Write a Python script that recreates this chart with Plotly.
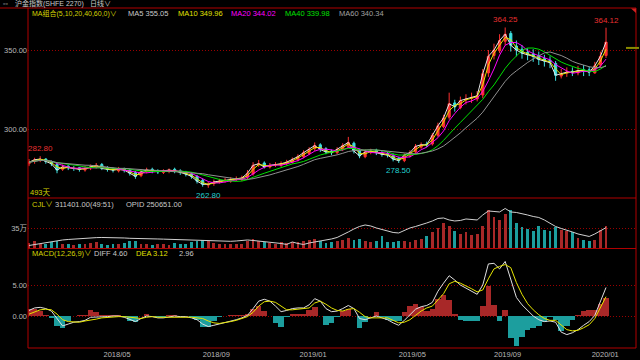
import pandas as pd
import plotly.graph_objects as go

# ---------------- data (weekly samples) ----------------
start_date = "2018-01-12"

close = [279.0, 280.5, 281.0, 279.5, 278.0, 274.0, 276.0, 275.5, 275.0, 274.5,
         275.0, 276.0, 277.0, 275.0, 274.5, 274.0, 274.5, 274.0, 272.0, 270.0,
         273.0, 274.0, 273.5, 273.0, 273.5, 274.0, 273.5, 272.5, 271.5, 270.0,
         267.0, 265.0, 265.0, 266.5, 267.0, 267.5, 268.0, 268.5, 269.0, 272.0,
         277.0, 278.0, 276.0, 277.0, 277.5, 278.0, 279.0, 280.5, 282.5, 285.0,
         287.0, 289.5, 287.0, 285.5, 285.0, 287.0, 289.5, 291.5, 286.0, 283.0,
         285.5, 286.0, 285.0, 284.0, 283.5, 281.0, 280.0, 283.5, 285.0, 289.0,
         290.0, 290.0, 296.0, 302.0, 307.0, 316.0, 314.0, 318.0, 319.0, 320.0,
         321.0, 335.0, 346.0, 350.0, 356.0, 360.0, 353.0, 350.0, 348.0, 347.0,
         346.0, 344.0, 343.0, 342.0, 334.0, 335.0, 336.0, 336.0, 337.0, 337.0,
         336.0, 340.0, 346.0, 355.0]

open_ = [278.0, 279.5, 280.0, 281.0, 279.0, 277.5, 274.5, 276.5, 275.0, 275.5,
         274.0, 275.5, 276.0, 277.5, 275.5, 274.5, 273.5, 275.0, 274.0, 272.5,
         270.5, 273.5, 274.5, 273.0, 272.5, 273.5, 274.5, 273.5, 272.0, 271.5,
         270.0, 267.5, 264.5, 265.5, 266.5, 267.5, 267.0, 268.5, 268.0, 269.5,
         271.5, 277.5, 278.5, 276.0, 277.5, 277.0, 278.5, 279.0, 280.5, 282.5,
         284.5, 287.5, 290.0, 287.5, 286.0, 285.0, 287.0, 289.0, 291.0, 286.5,
         282.5, 285.5, 286.5, 285.0, 284.5, 283.0, 281.5, 280.0, 283.0, 285.5,
         288.5, 290.5, 290.5, 296.0, 301.5, 307.5, 316.5, 313.5, 318.5, 319.5,
         319.0, 321.5, 335.5, 346.5, 349.5, 355.5, 360.5, 352.5, 350.5, 348.5,
         347.5, 346.5, 344.5, 343.5, 341.5, 333.5, 335.5, 336.5, 335.5, 337.5,
         337.5, 335.5, 340.5, 346.5]

high = [281.0, 281.8, 282.8, 281.5, 280.0, 278.5, 277.5, 277.0, 276.5, 276.0,
        276.5, 277.5, 278.5, 278.5, 276.5, 275.5, 276.0, 275.5, 274.5, 273.5,
        274.5, 275.5, 275.5, 274.5, 274.5, 275.0, 275.5, 274.5, 273.5, 272.5,
        271.0, 268.5, 266.5, 268.0, 268.5, 269.0, 269.5, 270.0, 270.5, 274.0,
        279.0, 280.4, 279.5, 278.5, 279.0, 279.5, 280.5, 282.0, 284.0, 286.5,
        288.5, 291.5, 291.0, 288.5, 287.0, 288.5, 291.0, 295.0, 292.0, 287.5,
        287.0, 287.5, 287.5, 286.0, 285.5, 284.5, 282.5, 284.5, 286.5, 290.5,
        291.5, 292.0, 297.5, 304.0, 309.0, 323.0, 318.5, 320.5, 322.0, 323.0,
        324.0, 338.0, 350.0, 354.0, 360.0, 364.25, 362.0, 356.0, 353.0, 351.0,
        350.5, 349.0, 347.0, 346.0, 343.0, 338.0, 339.0, 339.0, 340.0, 340.5,
        339.5, 342.5, 349.0, 364.12]

low = [276.5, 278.0, 279.0, 278.0, 276.5, 272.0, 273.5, 274.0, 273.5, 273.0,
       273.0, 274.0, 275.0, 274.0, 273.0, 272.5, 272.5, 272.5, 270.5, 268.5,
       269.5, 272.0, 272.0, 271.5, 271.5, 272.0, 272.0, 271.0, 270.0, 268.5,
       265.5, 263.5, 262.8, 264.0, 265.5, 266.0, 266.0, 267.0, 267.0, 268.0,
       270.5, 276.0, 275.0, 275.0, 276.0, 276.0, 277.0, 278.0, 279.5, 281.5,
       283.5, 286.0, 285.5, 284.0, 283.5, 284.0, 286.0, 288.0, 284.5, 281.5,
       281.5, 284.0, 283.5, 282.5, 282.0, 279.5, 278.5, 279.0, 282.0, 284.5,
       287.5, 288.5, 289.5, 295.0, 300.5, 306.0, 311.0, 312.5, 315.5, 316.5,
       317.5, 319.5, 333.0, 344.0, 348.0, 353.0, 349.0, 346.0, 344.5, 343.5,
       342.5, 340.5, 339.5, 338.5, 330.5, 332.0, 333.0, 333.5, 334.0, 333.5,
       333.5, 335.0, 339.0, 345.0]

volume_k = [90, 120, 70, 80, 100, 130, 80, 70, 60, 80,
            70, 90, 110, 70, 60, 80, 70, 90, 120, 130,
            80, 70, 60, 80, 70, 60, 90, 70, 80, 100,
            130, 140, 120, 90, 80, 70, 80, 70, 80, 120,
            160, 130, 100, 90, 80, 100, 90, 110, 100, 130,
            140, 160, 130, 90, 100, 120, 140, 180, 150, 170,
            130, 110, 120, 210, 100, 110, 130, 120, 100, 140,
            160, 220, 280, 360, 450, 400, 300, 250, 280, 240,
            260, 400, 680, 560, 500, 620, 690, 450, 380, 350,
            300, 400, 330, 300, 380, 320, 300, 280, 180, 140,
            120, 150, 330, 390]

opid_k = [144, 150, 156, 162, 165, 171, 177, 180, 183, 186,
          189, 191, 191, 192, 192, 190, 189, 189, 187, 187,
          187, 186, 185, 183, 182, 181, 180, 178, 177, 175,
          173, 172, 171, 170, 169, 169, 169, 171, 174, 177,
          174, 171, 168, 165, 162, 156, 150, 165, 156, 150,
          159, 165, 167, 174, 183, 192, 207, 225, 243, 258,
          267, 261, 249, 240, 231, 222, 219, 234, 249, 258,
          267, 279, 291, 306, 309, 297, 291, 294, 303, 300,
          297, 327, 351, 348, 345, 366, 345, 342, 336, 327,
          318, 312, 297, 279, 258, 246, 237, 225, 213, 204,
          198, 213, 231, 251]

diff = [0.9, 1.3, 1.4, 1.2, 0.8, -0.5, -1.6, -1.3, -1.0, -0.9,
        -0.7, -0.2, -0.2, -0.2, -0.1, 0.0, 0.0, -0.2, -0.6, -0.9,
        -0.4, 0.0, -0.1, -0.3, -0.3, -0.1, 0.0, -0.1, -0.1, -0.3,
        -0.6, -1.3, -1.7, -1.5, -1.3, -1.1, -0.8, -0.6, -0.3, 0.1,
        1.2, 2.4, 2.7, 2.4, 1.6, 0.7, 0.9, 1.2, 1.3, 1.3,
        1.8, 2.8, 2.4, 1.2, 0.7, 0.8, 1.2, 1.7, 1.2, -0.4,
        -0.6, -0.3, 0.0, -0.3, -0.6, -1.1, -1.5, -0.7, 0.2, 1.1,
        1.5, 1.7, 2.2, 4.0, 5.3, 6.5, 5.8, 5.0, 4.5, 4.0,
        3.5, 5.0, 8.4, 8.5, 7.6, 8.8, 6.0, 3.0, 1.8, 0.9,
        0.0, -0.6, -0.9, -0.8, -1.0, -2.6, -3.0, -2.7, -2.2, -1.5,
        -0.9, 0.1, 2.3, 4.6]

dea = [0.3, 0.7, 1.0, 1.1, 1.0, 0.3, -0.6, -0.9, -1.0, -1.0,
       -0.8, -0.7, -0.5, -0.3, -0.2, -0.1, -0.1, -0.1, -0.2, -0.4,
       -0.4, -0.2, -0.1, -0.2, -0.2, -0.2, -0.1, -0.1, -0.1, -0.2,
       -0.3, -0.4, -0.8, -1.1, -1.2, -1.1, -0.9, -0.7, -0.4, -0.1,
       0.6, 1.6, 2.3, 2.4, 2.2, 1.6, 1.0, 1.0, 1.1, 1.1,
       1.3, 2.1, 2.4, 1.9, 1.3, 0.9, 0.8, 1.1, 1.2, 0.6,
       -0.1, -0.3, -0.3, -0.2, -0.3, -0.7, -1.1, -1.0, -0.6, 0.1,
       0.8, 1.3, 1.6, 2.6, 3.6, 5.2, 5.6, 5.3, 4.9, 4.4,
       3.9, 4.2, 6.0, 7.6, 8.0, 8.3, 7.8, 5.4, 3.5, 2.0,
       1.0, 0.2, -0.4, -0.7, -0.7, -1.4, -2.2, -2.4, -2.3, -1.9,
       -1.4, -0.4, 1.3, 3.12]

tick_dates = ["2018-05-02", "2018-09-03", "2019-01-02", "2019-05-06", "2019-09-02", "2020-01-02"]
tick_text = ["2018/05", "2018/09", "2019/01", "2019/05", "2019/09", "2020/01"]

ma_names = ["MA5", "MA10", "MA20", "MA40", "MA60"]
ma_windows = [1, 2, 4, 8, 12]          # weekly equivalents of 5/10/20/40/60 days
ma_colors = ["#e8e8e8", "#e6e600", "#ff00ff", "#00e000", "#909090"]

# ---------------- derived ----------------
dates = pd.date_range(start_date, periods=len(close), freq="7D")
cs = pd.Series(close)
hist = [2 * (d - e) for d, e in zip(diff, dea)]
up = [c >= o for c, o in zip(close, open_)]
RED, TEAL = "#a82828", "#1c9e9e"
vol_colors = [RED if u else TEAL for u in up]
hist_colors = [RED if h >= 0 else TEAL for h in hist]

W, H = 640, 360
L, R, T, B = 28, 4, 0, 12
PW, PH = W - L - R, H - T - B


def px(x):
    return (x - L) / PW


def py(y):
    return (H - B - y) / PH


fig = go.Figure()

fig.add_trace(go.Candlestick(
    x=dates, open=open_, high=high, low=low, close=close,
    increasing=dict(line=dict(color="#ff3030", width=1), fillcolor="#ff3030"),
    decreasing=dict(line=dict(color="#3ee0e0", width=1), fillcolor="#3ee0e0"),
    xaxis="x", yaxis="y", hoverinfo="skip"))

for name, w, col in zip(ma_names, ma_windows, ma_colors):
    fig.add_trace(go.Scatter(x=dates, y=cs.rolling(w, min_periods=1).mean(),
                             mode="lines", line=dict(color=col, width=1),
                             xaxis="x", yaxis="y", name=name))

fig.add_trace(go.Bar(x=dates, y=volume_k, marker=dict(color=vol_colors, line=dict(width=0)),
                     width=3.5 * 86400000, xaxis="x", yaxis="y2"))
fig.add_trace(go.Scatter(x=dates, y=opid_k, mode="lines", line=dict(color="#d0d0d0", width=1),
                         xaxis="x", yaxis="y4"))

fig.add_trace(go.Bar(x=dates, y=hist, marker=dict(color=hist_colors, line=dict(width=0)),
                     width=7 * 86400000, xaxis="x", yaxis="y3"))
fig.add_trace(go.Scatter(x=dates, y=diff, mode="lines", line=dict(color="#e0e0e0", width=1),
                         xaxis="x", yaxis="y3"))
fig.add_trace(go.Scatter(x=dates, y=dea, mode="lines", line=dict(color="#e6e600", width=1),
                         xaxis="x", yaxis="y3"))

# ---------------- layout ----------------
day = pd.Timedelta(days=1)
x0 = dates[0] - 1.25 * day
x1 = x0 + PW / 0.8003 * day

FONT = "Liberation Sans, Arial, Noto Sans CJK SC, sans-serif"
GRID = dict(showgrid=True, gridcolor="#9a0000", griddash="1px,2px", gridwidth=1,
            zeroline=False, showline=False, ticks="", automargin=False,
            tickfont=dict(color="#b8b8b8", size=7.5, family=FONT))

fig.update_layout(
    width=W, height=H, margin=dict(l=L, r=R, t=T, b=B, autoexpand=False),
    paper_bgcolor="black", plot_bgcolor="black", showlegend=False,
    bargap=0, boxgap=0.45, font=dict(family=FONT, color="#c0c0c0", size=8),
    xaxis=dict(type="date", range=[x0, x1], anchor="y3", domain=[0, 1], automargin=False,
               tickvals=tick_dates, ticktext=tick_text, showgrid=False, zeroline=False,
               showline=False, ticks="", rangeslider=dict(visible=False),
               tickfont=dict(color="#b8b8b8", size=7.5, family=FONT)),
    yaxis=dict(domain=[py(197), py(8)], range=[256.96, 376.58], anchor="x",
               tickvals=[300, 350], ticktext=["300.00", "350.00"], **GRID),
    yaxis2=dict(domain=[py(248), py(198)], range=[0, 900], anchor="x",
                tickvals=[350], ticktext=["35万"], **GRID),
    yaxis4=dict(overlaying="y2", range=[128.8, 428.8], visible=False, anchor="x"),
    yaxis3=dict(domain=[0, py(249)], range=[-5.16, 10.81], anchor="x",
                tickvals=[0, 5], ticktext=["0.00", "5.00"], **GRID),
)

LINE = "#b00000"
shapes = [
    dict(type="line", xref="paper", yref="paper", x0=px(0), x1=1, y0=py(8), y1=py(8)),
    dict(type="line", xref="paper", yref="paper", x0=0, x1=1, y0=py(198), y1=py(198)),
    dict(type="line", xref="paper", yref="paper", x0=0, x1=1, y0=py(248.5), y1=py(248.5)),
    dict(type="line", xref="paper", yref="paper", x0=0, x1=1, y0=0, y1=0),
    dict(type="line", xref="paper", yref="paper", x0=0, x1=0, y0=0, y1=py(8)),
    dict(type="line", xref="paper", yref="paper", x0=1, x1=1, y0=0, y1=py(8)),
]
for s in shapes:
    s["line"] = dict(color=LINE, width=1)
shapes.append(dict(type="path", xref="paper", yref="paper",
                   path=f"M {px(631)} {py(8.5)} L {px(636)} {py(8.5)} L {px(636)} {py(13)} Z",
                   fillcolor="#d02020", line=dict(width=0)))
shapes.append(dict(type="line", xref="paper", yref="y", x0=px(626), x1=px(639),
                   y0=351.3, y1=351.3, line=dict(color="#8a8a00", width=2)))
fig.update_layout(shapes=shapes)


def label(x, y, text, color, size=7.5):
    return dict(x=px(x), y=py(y), xref="paper", yref="paper", text=text, showarrow=False,
                xanchor="left", yanchor="middle", font=dict(color=color, size=size, family=FONT))


YEL, LIGHT = "#d4d400", "#c8c8c8"
ann = [
    label(1, 4, "▫▫", "#b0b0b0", 7),
    label(13, 4, "沪金指数(SHFE 2270)", LIGHT, 7),
    label(88, 4, "日线∨", LIGHT, 7),
    label(30, 13.5, "MA组合(5,10,20,40,60,0)∨", YEL, 7),
    label(126, 13.5, "MA5 355.05", LIGHT),
    label(176, 13.5, "MA10 349.96", "#e0e000"),
    label(229, 13.5, "MA20 344.02", "#ff00ff"),
    label(283, 13.5, "MA40 339.98", "#00e000"),
    label(337, 13.5, "MA60 340.34", "#a0a0a0"),
    label(28, 192, "493天", YEL),
    label(30, 204, "CJL∨", YEL),
    label(53, 204, "311401.00(49:51)", LIGHT),
    label(124, 204, "OPID 250651.00", LIGHT),
    label(30, 254, "MACD(12,26,9)∨", YEL),
    label(92, 254, "DIFF 4.60", LIGHT),
    label(134, 254, "DEA 3.12", "#e0e000"),
    label(177, 254, "2.96", LIGHT),
]


def extreme(idx, value, is_high):
    return dict(x=dates[idx], y=value, xref="x", yref="y", text=f"{value:.2f}",
                showarrow=False, xanchor="center",
                yanchor="bottom" if is_high else "top", yshift=1 if is_high else -1,
                font=dict(color="#e83030" if is_high else "#20d0d0", size=8, family=FONT))


def argmax(seq, a, b):
    return max(range(a, b), key=lambda i: seq[i])


def argmin(seq, a, b):
    return min(range(a, b), key=lambda i: seq[i])


n = len(close)
i = argmax(high, 0, 20); ann.append(extreme(i, high[i], True))
i = argmin(low, 0, n); ann.append(extreme(i, low[i], False))
i = argmin(low, 55, 75); ann.append(extreme(i, low[i], False))
i = argmax(high, 0, n); ann.append(extreme(i, high[i], True))
i = argmax(high, 95, n); ann.append(extreme(i, high[i], True))

fig.update_layout(annotations=ann)
fig.write_html("out.html",
               config={"displayModeBar": False, "staticPlot": True},
               post_script="document.body.style.margin='0';document.body.style.padding='0';"
                           "document.body.style.overflow='hidden';")
